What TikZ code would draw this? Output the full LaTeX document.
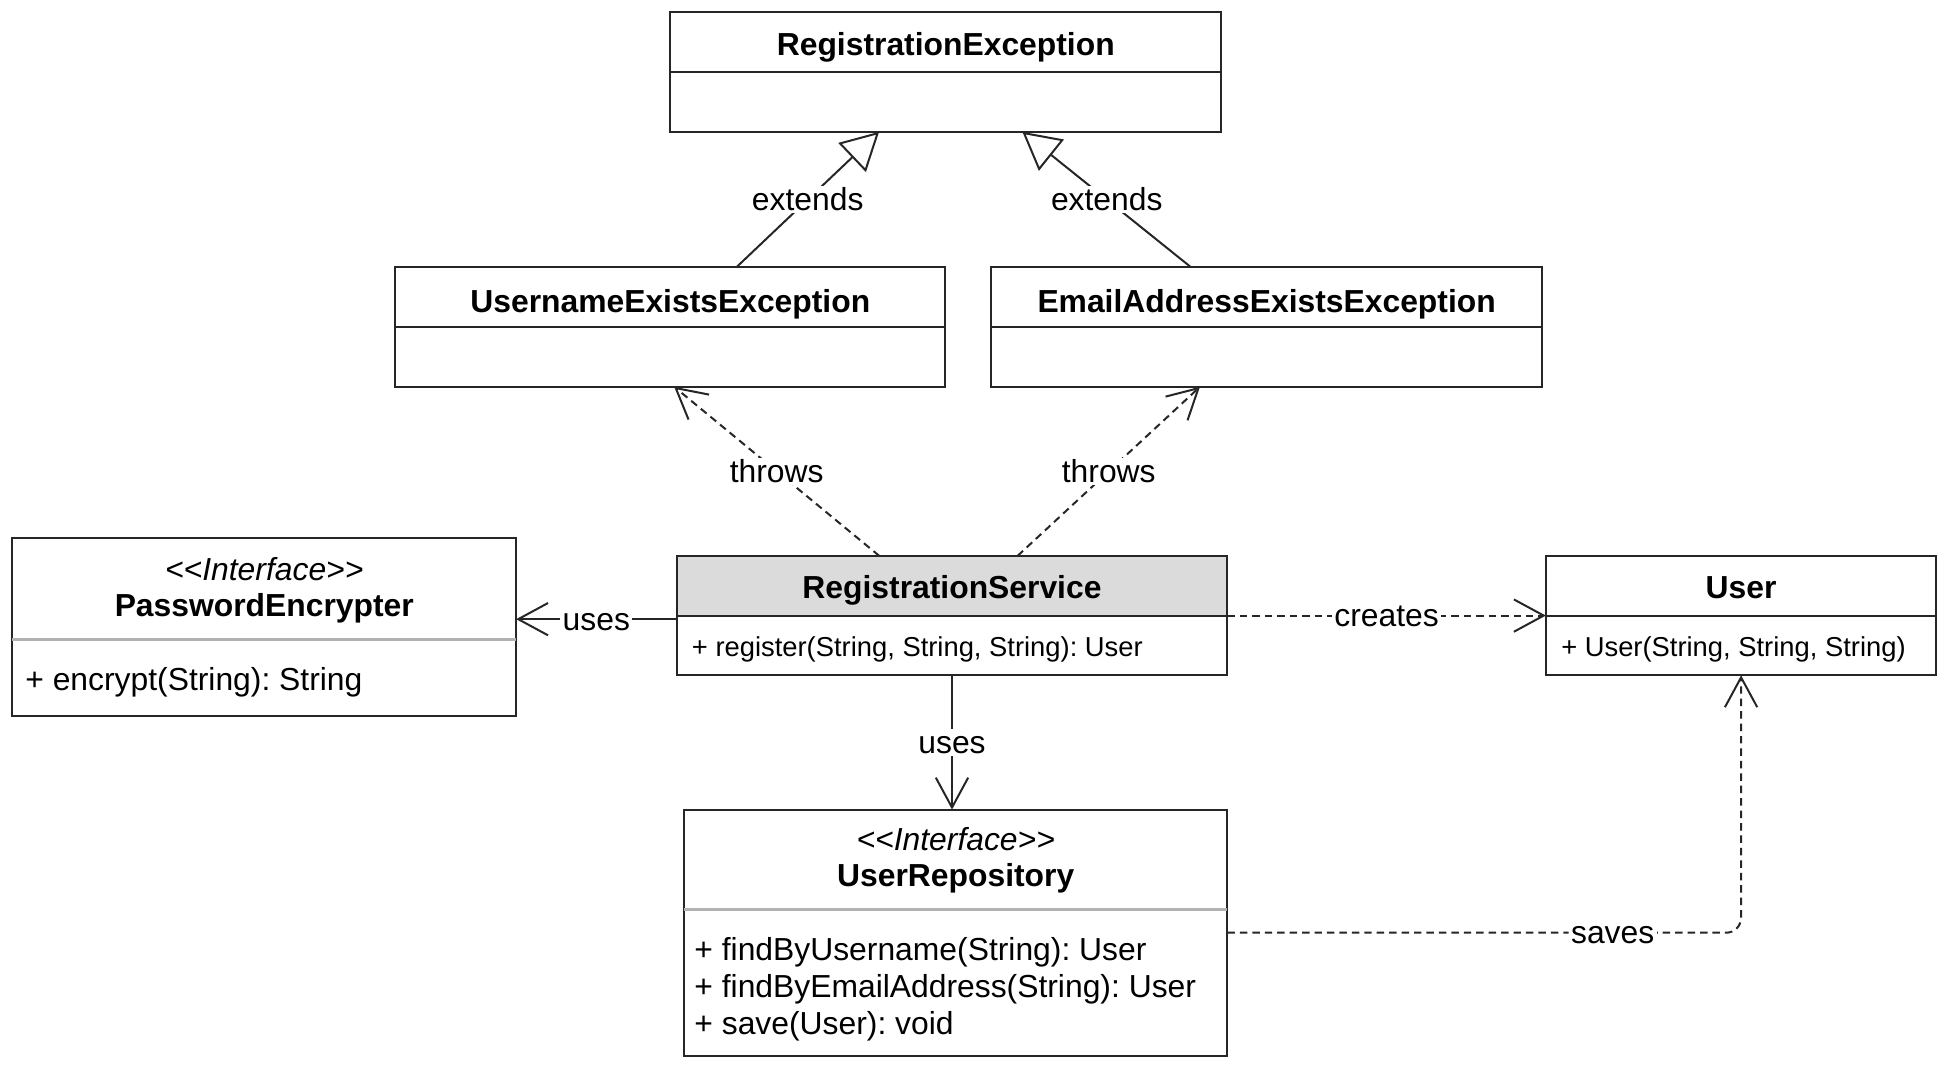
\documentclass[tikz,border=0pt]{standalone}
\usepackage{fontspec}
\setmainfont{Liberation Sans}
\usetikzlibrary{arrows.meta,calc,backgrounds}
\frenchspacing
\begin{document}
\begin{tikzpicture}[x=0.5pt,y=-0.5pt,
  umlbox/.style={draw=black!85, line width=0.8pt, anchor=north west, inner sep=0pt, outer sep=0pt},
  umltitle/.style={font=\fontsize{12.8}{15}\selectfont\bfseries, anchor=base, inner sep=0pt},
  umlster/.style={font=\fontsize{12.8}{15}\selectfont\itshape, anchor=base, inner sep=0pt},
  umlmeth/.style={font=\fontsize{12.8}{15}\selectfont, anchor=base west, inner sep=0pt},
  umlsmeth/.style={font=\fontsize{11}{13}\selectfont, anchor=base west, inner sep=0pt},
  umllabel/.style={font=\fontsize{12.8}{15}\selectfont, fill=white, inner sep=1pt, text height=9pt, text depth=0pt},
  umlline/.style={line width=0.8pt, draw=black!85},
  umldep/.style={umlline, dash pattern=on 3pt off 2pt},
  vtip/.style={-{Straight Barb[length=12pt,width=13pt]}},
  genarrow/.style={-{Triangle[open,length=15pt,width=16pt]}},
  ifsep/.style={line width=1.2pt, draw=black!30},
]
\useasboundingbox (0,0) rectangle (1568,860);

% boxes
\node[umlbox, minimum width=221.5pt, minimum height=48pt] (re) at (539,10) {};
\node[umlbox, minimum width=221pt, minimum height=48pt] (uee) at (318,215) {};
\node[umlbox, minimum width=221.5pt, minimum height=48pt] (eaee) at (797,215) {};
\node[umlbox, minimum width=202.5pt, minimum height=71.5pt] (pe) at (10,433) {};
\node[umlbox, minimum width=221.5pt, minimum height=48pt] (rs) at (544,447) {};
\node[umlbox, minimum width=157pt, minimum height=48pt] (user) at (1243,447) {};
\node[umlbox, minimum width=218.5pt, minimum height=99pt] (ur) at (550,651) {};

\begin{scope}[on background layer]
  \fill[white] (0,0) rectangle (1568,860);
  \fill[black!14] (rs.north west) rectangle (rs.east);
\end{scope}

% dividers
\draw[umlline] (re.west) -- (re.east);
\draw[umlline] (uee.west) -- (uee.east);
\draw[umlline] (eaee.west) -- (eaee.east);
\draw[umlline] (rs.west) -- (rs.east);
\draw[umlline] (user.west) -- (user.east);
\draw[ifsep] ($(pe.north west)+(0,81)$) -- ($(pe.north east)+(0,81)$);
\draw[ifsep] ($(ur.north west)+(0,80)$) -- ($(ur.north east)+(0,80)$);

% texts
\node[umltitle] (reT) at (re.north |- 0,45) {RegistrationException};
\node[umltitle] (ueeT) at (uee.north |- 0,251) {UsernameExistsException};
\node[umltitle] (eaeeT) at (eaee.north |- 0,251) {EmailAddressExistsException};
\node[umlster] (peS) at (pe.north |- 0,467) {<{}<Interface>{}>};
\node[umltitle] (peT) at (pe.north |- 0,496) {PasswordEncrypter};
\node[umlmeth] (peM) at (20,555) {+ encrypt(String): String};
\node[umltitle] (rsT) at (rs.north |- 0,481) {RegistrationService};
\node[umlsmeth] (rsM) at (556,528) {+ register(String, String, String): User};
\node[umltitle] (userT) at (user.north |- 0,481) {User};
\node[umlsmeth] (userM) at (1255,528) {+ User(String, String, String)};
\node[umlster] (urS) at (ur.north |- 0,684) {<{}<Interface>{}>};
\node[umltitle] (urT) at (ur.north |- 0,713) {UserRepository};
\node[umlmeth] (urM1) at (558,772) {+ findByUsername(String): User};
\node[umlmeth] (urM2) at (558,802) {+ findByEmailAddress(String): User};
\node[umlmeth] (urM3) at (558,832) {+ save(User): void};

% connectors
\draw[umlline, genarrow] ($(uee.north west)!0.62!(uee.north east)$) -- node[umllabel]{extends} ($(re.south west)!0.379!(re.south east)$);
\draw[umlline, genarrow] ($(eaee.north west)!0.363!(eaee.north east)$) -- node[umllabel]{extends} ($(re.south west)!0.639!(re.south east)$);
\draw[umldep, vtip] ($(rs.north west)!0.368!(rs.north east)$) -- node[umllabel]{throws} ($(uee.south west)!0.507!(uee.south east)$);
\draw[umldep, vtip] ($(rs.north west)!0.619!(rs.north east)$) -- node[umllabel]{throws} ($(eaee.south west)!0.379!(eaee.south east)$);
\coordinate (ul) at ($(rs.north west)!0.53!(rs.south west)$);
\draw[umlline, vtip] (ul) -- node[umllabel]{uses} (pe.east |- ul);
\draw[umldep, vtip] (rs.east) -- node[umllabel]{creates} (user.west);
\draw[umlline, vtip] (rs.south) -- node[umllabel]{uses} (rs.south |- ur.north);
\draw[umldep, vtip, rounded corners=6pt] (ur.east) -| node[umllabel, pos=0.375]{saves} (user.south);
\end{tikzpicture}
\end{document}
